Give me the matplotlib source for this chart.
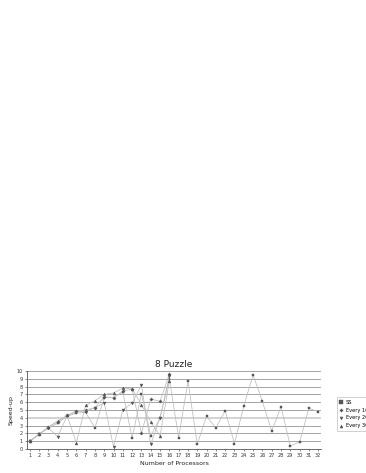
import numpy as np
import matplotlib
matplotlib.use("Agg")
import matplotlib.pyplot as plt

# processors on the x axis
procs = list(range(1, 33))

# speed-up values
ss = [1.0, 1.9, 2.7, 3.3, 4.2, 4.6, 4.7, 2.7, 6.6, 6.6, 7.3, 1.4, 7.1, 1.7, 4.0, 9.0,
      1.45, 8.7, 0.6, 4.2, 2.7, 4.9, 0.7, 5.5, 9.5, 6.1, 2.3, 5.4, 0.4, 0.9, 5.2, 4.8]
every100 = [1.0, 1.9, 2.8, 3.5, 4.3, 4.9, 5.0, 5.3, 6.7, 6.6, 7.4, 7.7, 2.0, 6.4, 6.1, 9.6]
every200 = [1.0, 1.9, 2.7, 1.6, 4.2, 4.8, 4.8, 5.3, 5.9, 0.3, 5.0, 5.9, 8.2, 0.6, 4.0, 9.3]
every300 = [1.0, 1.9, 2.8, 3.6, 4.3, 0.8, 5.6, 6.2, 7.0, 7.2, 7.8, 7.7, 5.7, 3.5, 1.7, 8.7]

series = [
    ("SS", ss, "s"),
    ("Every 100", every100, "P"),
    ("Every 200", every200, "v"),
    ("Every 300", every300, "^"),
]

fig = plt.figure(figsize=(3.66, 4.73), dpi=100)
ax = fig.add_axes([27 / 366, 1 - 449 / 473, (321 - 27) / 366, (449 - 371) / 473])

line_col = "#bdbdbd"
mark_col = "#555555"
for name, vals, mk in series:
    ax.plot(procs[:len(vals)], vals, color=line_col, lw=0.55, marker=mk,
            markersize=2.1, markerfacecolor=mark_col, markeredgecolor=mark_col,
            markeredgewidth=0.3, label=name, zorder=3)

ax.set_xlim(0.7, 32.3)
ax.set_ylim(0, 10)
ax.set_yticks(range(0, 11))
ax.set_xticks(procs)
for y in range(1, 11):
    if y == 4:
        ax.axhline(y, color="#cccccc", lw=1.2, zorder=1)
    else:
        ax.axhline(y, color="#808080", lw=0.5, zorder=1)

for s in ["top", "right"]:
    ax.spines[s].set_visible(False)
ax.spines["left"].set_color("#555555")
ax.spines["bottom"].set_color("#555555")
ax.spines["left"].set_linewidth(0.6)
ax.spines["bottom"].set_linewidth(0.6)
ax.tick_params(axis="both", labelsize=3.6, length=1.5, width=0.4, pad=1.5,
               colors="#333333")

ax.set_title("8 Puzzle", fontsize=6.5, pad=3, color="#222222")
ax.set_xlabel("Number of Processors", fontsize=4.5, labelpad=2, color="#222222")
ax.set_ylabel("Speed-up", fontsize=4.5, labelpad=2, color="#222222")

# legend sits at the right edge and is clipped there, like the source
leg = ax.legend(loc="upper left", bbox_to_anchor=(337 / 366, 1 - 397 / 473),
                bbox_transform=fig.transFigure, fontsize=3.6, frameon=True,
                fancybox=False, borderpad=0.6, labelspacing=0.55,
                handlelength=0.5, handletextpad=0.6, borderaxespad=0,
                edgecolor="#999999")
for h in leg.legend_handles:
    h.set_linestyle("none")
    h.set_markersize(2.2)
leg.get_frame().set_linewidth(0.4)

fig.savefig("out.png", dpi=100)
